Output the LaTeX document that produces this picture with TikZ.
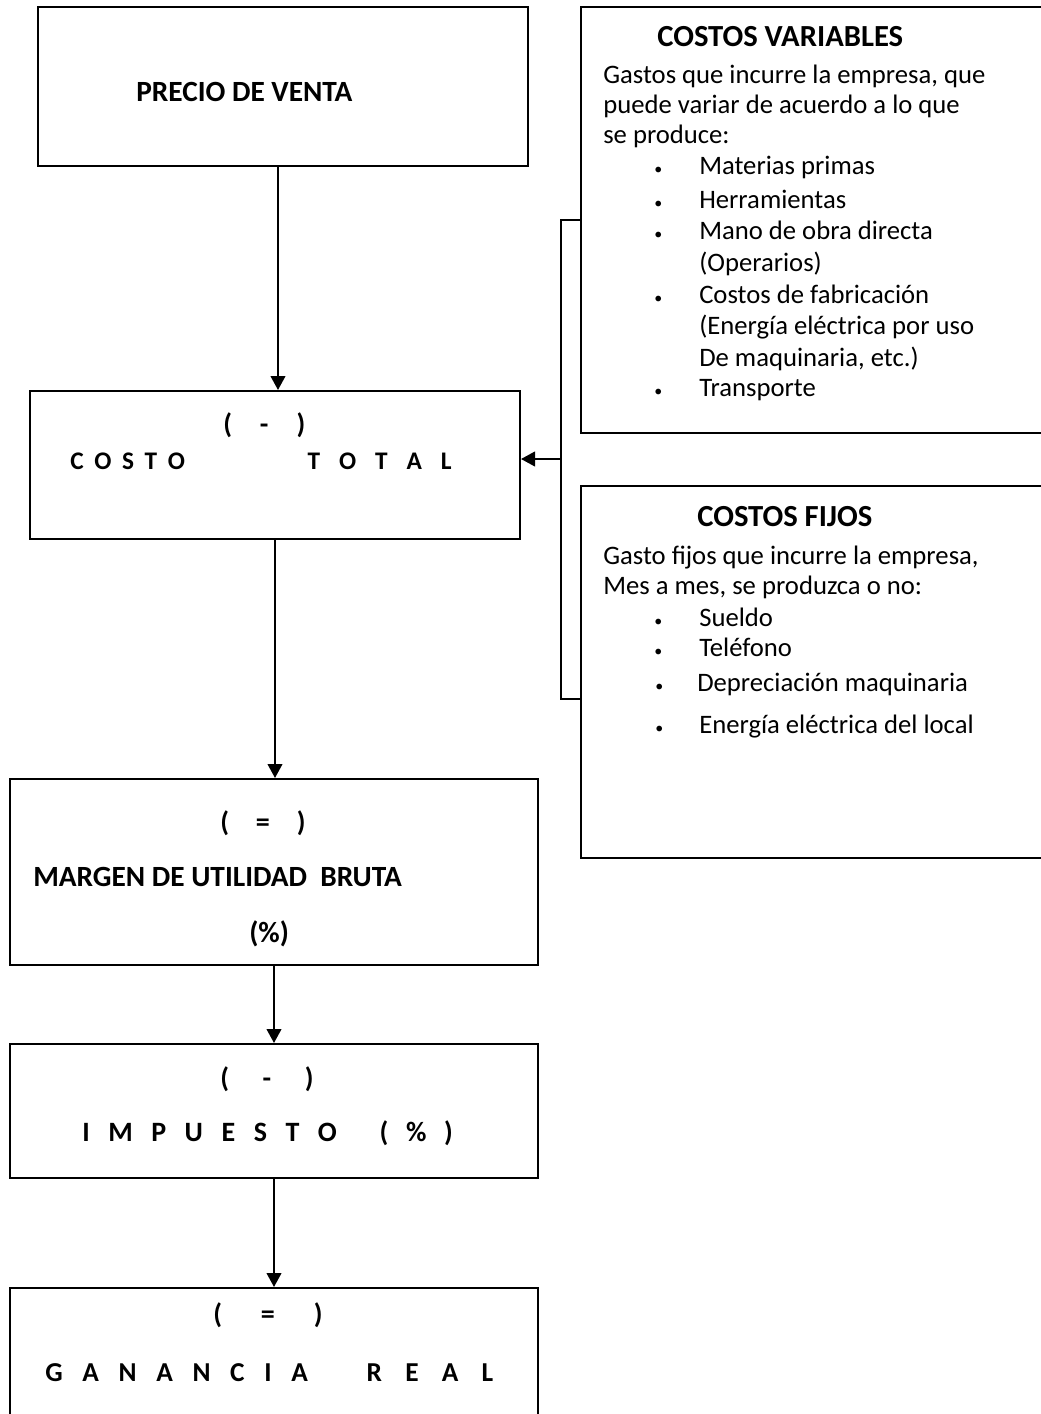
\documentclass[tikz,border=0pt]{standalone}
\usepackage{fontspec}
\setmainfont{Carlito}
\usetikzlibrary{arrows.meta,fit}

% spread letters of one word over a fixed width
\newcommand{\spread}[2]{\makebox[#1][s]{#2}}
% small list bullet
\newcommand{\dotitem}{{\fontsize{12}{12}\selectfont\textbullet}}

\tikzset{
  line/.style={line width=1.5pt},
  box/.style={draw, line width=1.5pt, inner sep=0pt},
  arr/.style={line width=1.5pt, -{Triangle[length=10.5pt,width=11pt]}},
  lbl/.style={inner sep=0pt, anchor=west, font=\fontsize{22}{26}\selectfont\bfseries, text height=14.2pt, text depth=0pt},
  spc/.style={inner sep=0pt, anchor=west, font=\fontsize{#1}{#1}\selectfont\bfseries, text height=0.64*#1pt, text depth=0pt},
  ttl/.style={inner sep=0pt, anchor=west, font=\fontsize{23}{27}\selectfont\bfseries, text height=14.8pt, text depth=0pt},
  txt/.style={inner sep=0pt, anchor=west, font=\fontsize{20}{24}\selectfont, text height=13pt, text depth=4pt},
}

\begin{document}
\begin{tikzpicture}[x=0.75pt, y=-0.75pt]
  \useasboundingbox (0,0) rectangle (1041,1414);
  \clip (0,0) rectangle (1041,1414);

  % --- left column ---
  \node[box, fit={(38,7) (528,166)}] (precio) {};
  \node[lbl] (precioT) at (136,92) {PRECIO DE VENTA};

  \node[box, fit={(30,391) (520,539)}] (costo) {};
  \node[spc=21] (costoS) at (223,425) {\spread{61.5pt}{( - )}};
  \node[spc=19] (costoT) at (70,461) {\spread{86pt}{C O S T O}\hspace{92pt}\spread{108pt}{T O T A L}};

  \node[box, fit={(10,779) (538,965)}] (margen) {};
  \node[spc=21] (margenS) at (220,823) {\spread{64pt}{( = )}};
  \node[lbl] (margenT) at (33,877) {MARGEN DE UTILIDAD\ \ BRUTA};
  \node[lbl] (margenP) at (249,933) {(\%)};

  \node[box, fit={(10,1044) (538,1178)}] (impuesto) {};
  \node[spc=21] (impuestoS) at (220,1079) {\spread{70pt}{( - )}};
  \node[spc=21] (impuestoT) at (82,1133) {\spread{191pt}{I M P U E S T O}\hspace{32pt}\spread{55pt}{( \% )}};

  \node[box, fit={(10,1288) (538,1440)}] (ganancia) {};
  \node[spc=21] (gananciaS) at (213,1315) {\spread{82pt}{( = )}};
  \node[spc=20.5] (gananciaT) at (45,1373) {\spread{197pt}{G A N A N C I A}\hspace{44pt}\spread{95pt}{R E A L}};

  \draw[arr] ([xshift=-3.75pt]precio.south) -- ([xshift=-3.75pt]precio.south |- costo.north);
  \draw[arr] (costo.south) -- (costo.south |- margen.north);
  \draw[arr] (margen.south) -- (margen.south |- impuesto.north);
  \draw[arr] (impuesto.south) -- (impuesto.south |- ganancia.north);

  % --- costos variables ---
  \node[box, fit={(581,7) (1060,433)}] (vbox) {};
  \node[ttl] (vtitle) at (657,37) {COSTOS VARIABLES};
  \node[txt] (vt1) at (603,77) {Gastos que incurre la empresa, que};
  \node[txt] (vt2) at (603,107) {puede variar de acuerdo a lo que};
  \node[txt] (vt3) at (603,137) {se produce:};
  \node[txt] (vb1) at (654,168) {\dotitem};
  \node[txt] (vi1) at (699,168) {Materias primas};
  \node[txt] (vb2) at (654,202) {\dotitem};
  \node[txt] (vi2) at (699,202) {Herramientas};
  \node[txt] (vb3) at (654,233) {\dotitem};
  \node[txt] (vi3) at (699,233) {Mano de obra directa};
  \node[txt] (vi3b) at (699,265) {(Operarios)};
  \node[txt] (vb4) at (654,297) {\dotitem};
  \node[txt] (vi4) at (699,297) {Costos de fabricación};
  \node[txt] (vi4b) at (699,328) {(Energía eléctrica por uso};
  \node[txt] (vi4c) at (699,360) {De maquinaria, etc.)};
  \node[txt] (vb5) at (654,390) {\dotitem};
  \node[txt] (vi5) at (699,390) {Transporte};

  % --- costos fijos ---
  \node[box, fit={(581,486) (1060,858)}] (fbox) {};
  \node[ttl] (ftitle) at (697,517) {COSTOS FIJOS};
  \node[txt] (ft1) at (603,558) {Gasto fijos que incurre la empresa,};
  \node[txt] (ft2) at (603,588) {Mes a mes, se produzca o no:};
  \node[txt] (fb1) at (654,620) {\dotitem};
  \node[txt] (fi1) at (699,620) {Sueldo};
  \node[txt] (fb2) at (654,650) {\dotitem};
  \node[txt] (fi2) at (699,650) {Teléfono};
  \node[txt] (fb3) at (655,685) {\dotitem};
  \node[txt] (fi3) at (697,685) {Depreciación maquinaria};
  \node[txt] (fb4) at (655,727) {\dotitem};
  \node[txt] (fi4) at (699,727) {Energía eléctrica del local};

  % --- bracket into costo total ---
  \coordinate (jn) at (561,459);
  \draw[line] (vbox.west |- 0,220) -| (jn) |- (fbox.west |- 0,699);
  \draw[arr] (jn) -- (costo.east |- jn);
\end{tikzpicture}
\end{document}
